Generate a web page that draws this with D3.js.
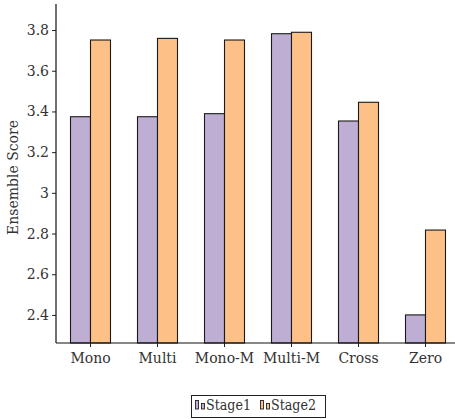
<!DOCTYPE html>
<html><head><meta charset="utf-8">
<script src="https://cdn.jsdelivr.net/npm/d3@7"></script>
<style>body{margin:0;background:#fff}svg{display:block}</style>
</head><body>
<svg id="c" width="455" height="419"></svg>
<script>
const categories = ["Mono","Multi","Mono-M","Multi-M","Cross","Zero"];
const stage1 = [3.374, 3.374, 3.389, 3.782, 3.353, 2.400];
const stage2 = [3.751, 3.759, 3.751, 3.789, 3.445, 2.817];
const seriesNames = ["Stage1","Stage2"];
const colors = ["#beaed4","#fdc086"];
const yTicks = [2.4,2.6,2.8,3.0,3.2,3.4,3.6,3.8];

const FONT = "'DejaVu Serif', serif";
const FS = 14;
const svg = d3.select("#c");
const L = 56, R = 455, T = 4, B = 343;
const y = d3.scaleLinear().domain([2.262, 3.928]).range([B, T]);
const x = d3.scalePoint().domain(categories).range([90, 425]);
const bw = 20;

const series = [stage1, stage2];
series.forEach((vals, si) => {
  svg.append("g").selectAll("rect").data(vals).join("rect")
    .attr("x", (d,i) => x(categories[i]) + (si === 0 ? -bw : 0) + 0.5)
    .attr("y", d => y(d))
    .attr("width", bw)
    .attr("height", d => B - y(d))
    .attr("fill", colors[si])
    .attr("stroke", "#1a1a1a")
    .attr("stroke-width", 1.1);
});

const ya = svg.append("g").attr("transform", `translate(${L},0)`)
  .call(d3.axisLeft(y).tickValues(yTicks).tickFormat(d => d === 3 ? "3" : d3.format(".1f")(d)).tickSize(4).tickSizeOuter(0));
ya.attr("font-family", FONT).attr("font-size", FS);
ya.select(".domain").remove();
ya.selectAll("text").attr("fill", "#333").attr("dx", 0);
ya.selectAll("line").attr("stroke", "#222");
svg.append("line").attr("x1", L).attr("x2", L).attr("y1", T).attr("y2", B).attr("stroke", "#111").attr("stroke-width", 1.2);

const xa = svg.append("g").attr("transform", `translate(0,${B})`)
  .call(d3.axisBottom(x).tickSize(4).tickSizeOuter(0));
xa.attr("font-family", FONT).attr("font-size", FS);
xa.select(".domain").remove();
xa.selectAll("text").attr("fill", "#333").attr("dy", "0.95em");
xa.selectAll("line").attr("stroke", "#222");
svg.append("line").attr("x1", L).attr("x2", R).attr("y1", B).attr("y2", B).attr("stroke", "#111").attr("stroke-width", 1.2);

svg.append("text").attr("transform", `translate(18,${(T+B)/2 + 4}) rotate(-90)`)
  .attr("font-family", FONT).attr("fill", "#333")
  .attr("text-anchor", "middle").attr("font-size", FS).text("Ensemble Score");

const lg = svg.append("g");
lg.append("rect").attr("x", 191.5).attr("y", 395.5).attr("width", 134).attr("height", 22)
  .attr("fill", "#fff").attr("stroke", "#222").attr("stroke-width", 1);
const lx = [195, 260];
seriesNames.forEach((n, i) => {
  lg.append("rect").attr("x", lx[i] + 0.5).attr("y", 400.5).attr("width", 3).attr("height", 8.5)
    .attr("fill", colors[i]).attr("stroke", "#222").attr("stroke-width", 0.9);
  lg.append("rect").attr("x", lx[i] + 6.5).attr("y", 403.5).attr("width", 3).attr("height", 5.5)
    .attr("fill", colors[i]).attr("stroke", "#222").attr("stroke-width", 0.9);
  lg.append("text").attr("x", lx[i] + 11).attr("y", 410)
    .attr("font-family", FONT).attr("font-size", 14)
    .attr("textLength", 45).attr("lengthAdjust", "spacingAndGlyphs").attr("fill", "#333").text(n);
});
</script>
</body></html>
